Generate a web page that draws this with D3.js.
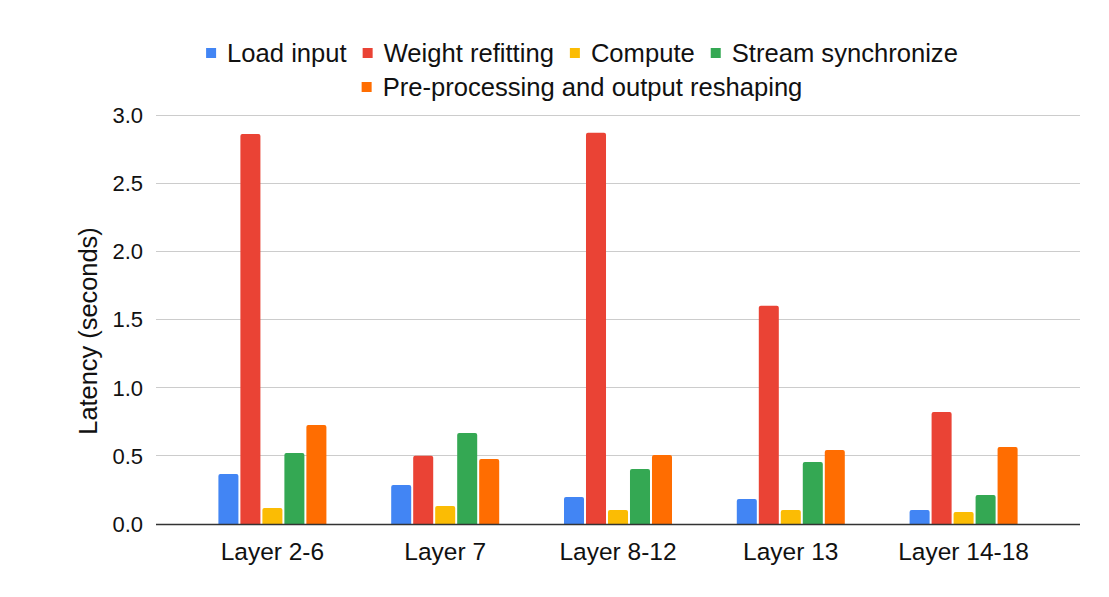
<!DOCTYPE html>
<html><head><meta charset="utf-8">
<script src="https://cdn.jsdelivr.net/npm/d3@7"></script>
<style>body{margin:0;background:#fff}svg{display:block}text{font-family:"Liberation Sans",Arial,sans-serif;fill:#111}</style>
</head><body><svg id="c" width="1109" height="597"></svg>
<script>
const categories = ["Layer 2-6","Layer 7","Layer 8-12","Layer 13","Layer 14-18"];
const seriesNames = ["Load input","Weight refitting","Compute","Stream synchronize","Pre-processing and output reshaping"];
const seriesColors = ["#4285F4","#EA4335","#FBBC04","#34A853","#FF6D01"];
const loadInput = [0.367,0.286,0.198,0.183,0.103];
const weightRefitting = [2.86,0.50,2.87,1.60,0.822];
const compute = [0.117,0.132,0.103,0.103,0.088];
const streamSync = [0.52,0.667,0.403,0.455,0.213];
const preprocessing = [0.726,0.477,0.506,0.543,0.565];
const yTicks = [0,0.5,1.0,1.5,2.0,2.5,3.0];
const seriesValues = [loadInput,weightRefitting,compute,streamSync,preprocessing];

const svg = d3.select("#c");
const y = d3.scaleLinear().domain([0,3]).range([524,115]);
const x = d3.scaleBand().domain(categories).range([186,1050]).padding(0);
const xi = d3.scaleBand().domain(seriesNames).range([-54,54]).paddingInner(0.09).paddingOuter(0);
const gridL = 156, gridR = 1080;

// grid
svg.append("g").selectAll("line").data(yTicks.filter(d=>d>0)).join("line")
  .attr("x1",gridL).attr("x2",gridR).attr("y1",d=>y(d)).attr("y2",d=>y(d))
  .attr("stroke","#cccccc").attr("stroke-width",1).attr("shape-rendering","crispEdges");

// y tick labels
svg.append("g").selectAll("text").data(yTicks).join("text")
  .attr("x",143).attr("y",d=>y(d)).attr("dy","0.36em").attr("text-anchor","end")
  .attr("font-size",22).text(d=>d3.format(".1f")(d));

// bars
const data = [];
categories.forEach((c,i)=>seriesNames.forEach((s,j)=>data.push({c,s,j,v:seriesValues[j][i]})));
svg.append("g").selectAll("path").data(data).join("path")
  .attr("fill",d=>seriesColors[d.j])
  .attr("d",d=>{
    const x0 = x(d.c)+x.bandwidth()/2+xi(d.s), w = xi.bandwidth();
    const yt = y(d.v), yb = y(0), r = 2;
    return `M${x0},${yb}V${yt+r}Q${x0},${yt} ${x0+r},${yt}H${x0+w-r}Q${x0+w},${yt} ${x0+w},${yt+r}V${yb}Z`;
  });

// axis line
svg.append("line").attr("x1",gridL).attr("x2",gridR).attr("y1",y(0)+0.5).attr("y2",y(0)+0.5)
  .attr("stroke","#333333").attr("stroke-width",1.5);

// x labels
svg.append("g").selectAll("text").data(categories).join("text")
  .attr("x",d=>x(d)+x.bandwidth()/2).attr("y",560).attr("text-anchor","middle")
  .attr("font-size",24.5).text(d=>d);

// y title
svg.append("text").attr("transform","translate(97,331) rotate(-90)").attr("text-anchor","middle")
  .attr("font-size",25.4).text("Latency (seconds)");

// legend
const rows = [[0,1,2,3],[4]];
const rowY = [53,87];
const cx = 582;
rows.forEach((row,ri)=>{
  const g = svg.append("g");
  const items = [];
  row.forEach(j=>{
    const it = g.append("g");
    it.append("rect").attr("x",0).attr("y",-5).attr("width",10).attr("height",10).attr("fill",seriesColors[j]);
    const t = it.append("text").attr("x",21).attr("y",0).attr("dy","0.36em").attr("font-size",25.6).text(seriesNames[j]);
    const w = 21 + t.node().getComputedTextLength();
    items.push({it,w});
  });
  const gap = 16;
  const total = d3.sum(items,d=>d.w) + gap*(items.length-1);
  let start = cx - total/2;
  items.forEach(d=>{ d.it.attr("transform",`translate(${start},${rowY[ri]})`); start += d.w + gap; });
});
</script></body></html>
